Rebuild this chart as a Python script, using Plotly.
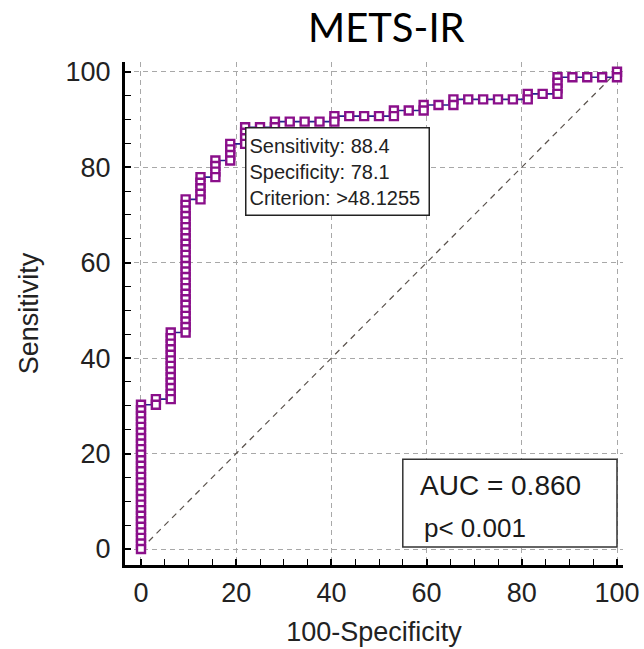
import plotly.graph_objects as go

# ROC curve points (100-Specificity, Sensitivity)
fpr = [
    0.0, 0.0, 0.0, 0.0, 0.0, 0.0, 0.0, 0.0, 0.0, 0.0, 0.0, 0.0, 0.0, 0.0,
    0.0, 0.0, 0.0, 0.0, 0.0, 0.0, 0.0, 0.0, 0.0, 0.0, 0.0, 0.0, 0.0,
    3.13, 3.13,
    6.25, 6.25, 6.25, 6.25, 6.25, 6.25, 6.25, 6.25, 6.25, 6.25, 6.25, 6.25, 6.25,
    9.38, 9.38, 9.38, 9.38, 9.38, 9.38, 9.38, 9.38, 9.38, 9.38, 9.38, 9.38, 9.38,
    9.38, 9.38, 9.38, 9.38, 9.38, 9.38, 9.38, 9.38, 9.38, 9.38, 9.38, 9.38,
    12.5, 12.5, 12.5, 12.5, 12.5,
    15.63, 15.63, 15.63, 15.63,
    18.75, 18.75, 18.75, 18.75,
    21.88, 21.88, 21.88, 21.88,
    25.0,
    28.13, 28.13,
    31.25, 34.38, 37.5,
    40.63, 40.63,
    43.75, 46.88, 50.0,
    53.13, 53.13,
    56.25,
    59.38, 59.38,
    62.5,
    65.63, 65.63,
    68.75, 71.88, 75.0, 78.13,
    81.25, 81.25,
    84.38,
    87.5, 87.5, 87.5, 87.5,
    90.63, 93.75, 96.88,
    100.0, 100.0,
]
sensitivity = [
    0.00, 1.16, 2.33, 3.49, 4.65, 5.81, 6.98, 8.14, 9.30, 10.47, 11.63, 12.79, 13.95, 15.12,
    16.28, 17.44, 18.60, 19.77, 20.93, 22.09, 23.26, 24.42, 25.58, 26.74, 27.91, 29.07, 30.23,
    30.23, 31.40,
    31.40, 32.56, 33.72, 34.88, 36.05, 37.21, 38.37, 39.53, 40.70, 41.86, 43.02, 44.19, 45.35,
    45.35, 46.51, 47.67, 48.84, 50.00, 51.16, 52.33, 53.49, 54.65, 55.81, 56.98, 58.14, 59.30,
    60.47, 61.63, 62.79, 63.95, 65.12, 66.28, 67.44, 68.60, 69.77, 70.93, 72.09, 73.26,
    73.26, 74.42, 75.58, 76.74, 77.91,
    77.91, 79.07, 80.23, 81.40,
    81.40, 82.56, 83.72, 84.88,
    84.88, 86.05, 87.21, 88.37,
    88.37,
    88.37, 89.53,
    89.53, 89.53, 89.53,
    89.53, 90.70,
    90.70, 90.70, 90.70,
    90.70, 91.86,
    91.86,
    91.86, 93.02,
    93.02,
    93.02, 94.19,
    94.19, 94.19, 94.19, 94.19,
    94.19, 95.35,
    95.35,
    95.35, 96.51, 97.67, 98.84,
    98.84, 98.84, 98.84,
    98.84, 100.00,
]

diag_x = [0, 100]
diag_y = [0, 100]

axis_ticks = [0, 20, 40, 60, 80, 100]

title_text = "METS-IR"
x_title = "100-Specificity"
y_title = "Sensitivity"
criterion_text = "Sensitivity: 88.4<br>Specificity: 78.1<br>Criterion: &gt;48.1255"
criterion_point = (21.88, 88.37)
auc_text = "AUC = 0.860"
p_text = "p< 0.001"

FONT = "Liberation Sans, Arial, sans-serif"

fig = go.Figure()

fig.add_trace(go.Scatter(
    x=diag_x, y=diag_y, mode="lines",
    line=dict(color="#5a524c", width=1.2, dash="6px,5px"),
    hoverinfo="skip", showlegend=False,
))

# draw from the top-right end down so the lowest marker of each column is on top
fig.add_trace(go.Scatter(
    x=fpr[::-1], y=sensitivity[::-1], mode="lines+markers",
    line=dict(color="#22228c", width=1.6),
    marker=dict(symbol="square", size=8, color="white",
                line=dict(color="#8a0f8a", width=2.4)),
    showlegend=False,
))

# AUC box
fig.add_shape(type="rect", xref="x", yref="y", x0=55.0, x1=100.0, y0=0.4, y1=18.8,
              line=dict(color="#333333", width=1.5), fillcolor="white", layer="above")
fig.add_annotation(x=58.2, y=13.4, xref="x", yref="y", text=auc_text, showarrow=False,
                   xanchor="left", yanchor="middle",
                   font=dict(family=FONT, size=28, color="#1a1a1a"))
fig.add_annotation(x=59.0, y=4.4, xref="x", yref="y", text=p_text, showarrow=False,
                   xanchor="left", yanchor="middle",
                   font=dict(family=FONT, size=26, color="#1a1a1a"))

# Criterion box
fig.add_annotation(x=criterion_point[0], y=criterion_point[1], xref="x", yref="y",
                   text=criterion_text, showarrow=False, xanchor="left", yanchor="top",
                   align="left", bgcolor="white", bordercolor="#222222", borderwidth=1.5,
                   borderpad=3, width=176, height=80,
                   font=dict(family=FONT, size=20, color="#222222"))

axis_common = dict(
    tickvals=axis_ticks,
    ticks="inside", ticklen=6, tickwidth=1.5, tickcolor="black",
    showline=True, linecolor="black", linewidth=3,
    showgrid=True, gridcolor="#a8a8a8", gridwidth=1, griddash="5px,4px",
    zeroline=False, automargin=False,
    minor=dict(dtick=5, tick0=0, ticks="inside", ticklen=6, tickwidth=1.2,
               tickcolor="black", showgrid=False),
    tickfont=dict(family=FONT, size=27, color="#222222"),
)

fig.update_xaxes(range=[-3.36, 101.26], ticklabelstandoff=2,
                 title=dict(text=x_title, standoff=15,
                            font=dict(family=FONT, size=27, color="#222222")), **axis_common)
fig.update_yaxes(range=[-3.35, 102.03], ticklabelstandoff=6,
                 title=dict(text=y_title, standoff=20,
                            font=dict(family=FONT, size=27, color="#222222")), **axis_common)

fig.update_layout(
    width=644, height=649,
    margin=dict(l=125, r=21, t=62, b=84, autoexpand=False),
    paper_bgcolor="white", plot_bgcolor="white",
    title=dict(text=title_text, x=0.6, xref="container", xanchor="center",
               y=0.957, yref="container", yanchor="middle",
               font=dict(family="Lato, Open Sans, sans-serif", size=40, color="black")),
    showlegend=False,
)

fig.write_html("out.html", config={"displayModeBar": False},
               post_script="document.body.style.margin='0';document.body.style.padding='0';")
